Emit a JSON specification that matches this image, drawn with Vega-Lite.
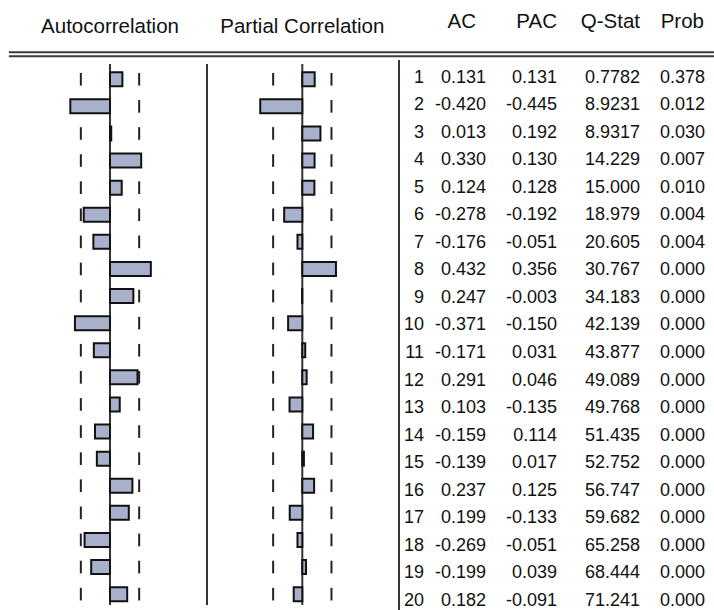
{
"$schema": "https://vega.github.io/schema/vega-lite/v6.json",
"background": "white",
"padding": 0,
"spacing": 0,
"bounds": "flush",
"config": {"view": {"stroke": null}, "locale": {"number": {"decimal": ".", "thousands": ",", "grouping": [3], "currency": ["$", ""], "minus": "-"}}},
"datasets": {"corr": [
{"lag": 1, "ac": 0.131, "pac": 0.131, "q": "0.7782", "prob": 0.378},
{"lag": 2, "ac": -0.420, "pac": -0.445, "q": "8.9231", "prob": 0.012},
{"lag": 3, "ac": 0.013, "pac": 0.192, "q": "8.9317", "prob": 0.030},
{"lag": 4, "ac": 0.330, "pac": 0.130, "q": "14.229", "prob": 0.007},
{"lag": 5, "ac": 0.124, "pac": 0.128, "q": "15.000", "prob": 0.010},
{"lag": 6, "ac": -0.278, "pac": -0.192, "q": "18.979", "prob": 0.004},
{"lag": 7, "ac": -0.176, "pac": -0.051, "q": "20.605", "prob": 0.004},
{"lag": 8, "ac": 0.432, "pac": 0.356, "q": "30.767", "prob": 0.000},
{"lag": 9, "ac": 0.247, "pac": -0.003, "q": "34.183", "prob": 0.000},
{"lag": 10, "ac": -0.371, "pac": -0.150, "q": "42.139", "prob": 0.000},
{"lag": 11, "ac": -0.171, "pac": 0.031, "q": "43.877", "prob": 0.000},
{"lag": 12, "ac": 0.291, "pac": 0.046, "q": "49.089", "prob": 0.000},
{"lag": 13, "ac": 0.103, "pac": -0.135, "q": "49.768", "prob": 0.000},
{"lag": 14, "ac": -0.159, "pac": 0.114, "q": "51.435", "prob": 0.000},
{"lag": 15, "ac": -0.139, "pac": 0.017, "q": "52.752", "prob": 0.000},
{"lag": 16, "ac": 0.237, "pac": 0.125, "q": "56.747", "prob": 0.000},
{"lag": 17, "ac": 0.199, "pac": -0.133, "q": "59.682", "prob": 0.000},
{"lag": 18, "ac": -0.269, "pac": -0.051, "q": "65.258", "prob": 0.000},
{"lag": 19, "ac": -0.199, "pac": 0.039, "q": "68.444", "prob": 0.000},
{"lag": 20, "ac": 0.182, "pac": -0.091, "q": "71.241", "prob": 0.000}
]},
"hconcat": [
{
"width": 207, "height": 610,
"data": {"name": "corr"},
"layer": [
{"data": {"values": [{}]}, "mark": {"type": "text", "text": "Autocorrelation", "font": "Liberation Sans", "fontSize": 20.5, "baseline": "alphabetic", "align": "center", "color": "#111"},
 "encoding": {"x": {"datum": 0, "type": "quantitative", "scale": {"domain": [-1.16402, 1.02646], "zero": false, "nice": false}, "axis": null},
  "y": {"datum": -0.7242, "type": "quantitative", "scale": {"domain": [-1.7405, 20.401], "reverse": true, "zero": false, "nice": false}, "axis": null}}},
{"data": {"values": [{}]}, "mark": {"type": "rule", "color": "#3a3a3a", "strokeWidth": 2},
 "encoding": {"x": {"datum": -1.07, "type": "quantitative"}, "x2": {"datum": 6.3915}, "y": {"datum": 0.0018, "type": "quantitative"}}},
{"data": {"values": [{}]}, "mark": {"type": "rule", "color": "#3a3a3a", "strokeWidth": 2},
 "encoding": {"x": {"datum": -1.07, "type": "quantitative"}, "x2": {"datum": 6.3915}, "y": {"datum": 0.147, "type": "quantitative"}}},
{"data": {"values": [{}]}, "mark": {"type": "rule", "color": "#333", "strokeWidth": 2},
 "encoding": {"x": {"datum": 0, "type": "quantitative"}, "y": {"datum": 0.4373, "type": "quantitative"}, "y2": {"datum": 20.401}}},
{"mark": {"type": "point", "shape": "M0,-1L0,1", "size": 160, "filled": false, "stroke": "#222", "strokeWidth": 2, "opacity": 1},
 "encoding": {"x": {"datum": -0.3086, "type": "quantitative"}, "y": {"field": "lag", "type": "quantitative"}}},
{"mark": {"type": "point", "shape": "M0,-1L0,1", "size": 160, "filled": false, "stroke": "#222", "strokeWidth": 2, "opacity": 1},
 "encoding": {"x": {"datum": 0.3086, "type": "quantitative"}, "y": {"field": "lag", "type": "quantitative"}}},
{"mark": {"type": "bar", "orient": "horizontal", "size": 14, "fill": "#a9b0cc", "stroke": "#111", "strokeWidth": 2},
 "encoding": {"x": {"field": "ac", "type": "quantitative"}, "x2": {"datum": 0}, "y": {"field": "lag", "type": "quantitative"}}}
]
},
{
"width": 192, "height": 610,
"data": {"name": "corr"},
"layer": [
{"data": {"values": [{}]}, "mark": {"type": "text", "text": "Partial Correlation", "font": "Liberation Sans", "fontSize": 20.5, "baseline": "alphabetic", "align": "center", "color": "#111"},
 "encoding": {"x": {"datum": 0, "type": "quantitative", "scale": {"domain": [-1.00847, 1.02328], "zero": false, "nice": false}, "axis": null},
  "y": {"datum": -0.7242, "type": "quantitative", "scale": {"domain": [-1.7405, 20.401], "reverse": true, "zero": false, "nice": false}, "axis": null}}},
{"data": {"values": [{}]}, "mark": {"type": "rule", "color": "#333", "strokeWidth": 2},
 "encoding": {"x": {"datum": -1.00847, "type": "quantitative"}, "y": {"datum": 0.4373, "type": "quantitative"}, "y2": {"datum": 20.401}}},
{"data": {"values": [{}]}, "mark": {"type": "rule", "color": "#333", "strokeWidth": 2},
 "encoding": {"x": {"datum": 0, "type": "quantitative"}, "y": {"datum": 0.4373, "type": "quantitative"}, "y2": {"datum": 20.401}}},
{"mark": {"type": "point", "shape": "M0,-1L0,1", "size": 160, "filled": false, "stroke": "#222", "strokeWidth": 2, "opacity": 1},
 "encoding": {"x": {"datum": -0.3086, "type": "quantitative"}, "y": {"field": "lag", "type": "quantitative"}}},
{"mark": {"type": "point", "shape": "M0,-1L0,1", "size": 160, "filled": false, "stroke": "#222", "strokeWidth": 2, "opacity": 1},
 "encoding": {"x": {"datum": 0.3086, "type": "quantitative"}, "y": {"field": "lag", "type": "quantitative"}}},
{"mark": {"type": "bar", "orient": "horizontal", "size": 14, "fill": "#a9b0cc", "stroke": "#111", "strokeWidth": 2},
 "encoding": {"x": {"field": "pac", "type": "quantitative"}, "x2": {"datum": 0}, "y": {"field": "lag", "type": "quantitative"}}}
]
},
{
"width": 25, "height": 610,
"data": {"name": "corr"},
"layer": [
{"data": {"values": [{}]}, "mark": {"type": "rule", "color": "#333", "strokeWidth": 2},
 "encoding": {"x": {"datum": 0, "type": "quantitative", "scale": {"domain": [0, 1], "zero": false, "nice": false}, "axis": null}, "y": {"datum": 0.4373, "type": "quantitative", "scale": {"domain": [-1.7405, 20.401], "reverse": true, "zero": false, "nice": false}, "axis": null}, "y2": {"datum": 20.401}}},
{"mark": {"type": "text", "font": "Liberation Sans", "fontSize": 18, "baseline": "alphabetic", "align": "right", "dy": 7, "color": "#111"},
 "encoding": {"x": {"datum": 1, "type": "quantitative"}, "y": {"field": "lag", "type": "quantitative"}, "text": {"field": "lag", "type": "quantitative", "format": "d"}}}
]
},
{
"width": 62, "height": 610,
"data": {"name": "corr"},
"layer": [
{"data": {"values": [{}]}, "mark": {"type": "text", "text": "AC", "font": "Liberation Sans", "fontSize": 20.5, "baseline": "alphabetic", "align": "right", "dx": -10, "color": "#111"},
 "encoding": {"x": {"datum": 1, "type": "quantitative", "scale": {"domain": [0, 1], "zero": false, "nice": false}, "axis": null},
  "y": {"datum": -0.7242, "type": "quantitative", "scale": {"domain": [-1.7405, 20.401], "reverse": true, "zero": false, "nice": false}, "axis": null}}},
{"mark": {"type": "text", "font": "Liberation Sans", "fontSize": 18, "baseline": "alphabetic", "align": "right", "dy": 7, "color": "#111"},
 "encoding": {"x": {"datum": 1, "type": "quantitative"}, "y": {"field": "lag", "type": "quantitative"}, "text": {"field": "ac", "type": "quantitative", "format": ".3f"}}}
]
},
{
"width": 71, "height": 610,
"data": {"name": "corr"},
"layer": [
{"data": {"values": [{}]}, "mark": {"type": "text", "text": "PAC", "font": "Liberation Sans", "fontSize": 20.5, "baseline": "alphabetic", "align": "right", "dx": 0, "color": "#111"},
 "encoding": {"x": {"datum": 1, "type": "quantitative", "scale": {"domain": [0, 1], "zero": false, "nice": false}, "axis": null},
  "y": {"datum": -0.7242, "type": "quantitative", "scale": {"domain": [-1.7405, 20.401], "reverse": true, "zero": false, "nice": false}, "axis": null}}},
{"mark": {"type": "text", "font": "Liberation Sans", "fontSize": 18, "baseline": "alphabetic", "align": "right", "dy": 7, "color": "#111"},
 "encoding": {"x": {"datum": 1, "type": "quantitative"}, "y": {"field": "lag", "type": "quantitative"}, "text": {"field": "pac", "type": "quantitative", "format": ".3f"}}}
]
},
{
"width": 83, "height": 610,
"data": {"name": "corr"},
"layer": [
{"data": {"values": [{}]}, "mark": {"type": "text", "text": "Q-Stat", "font": "Liberation Sans", "fontSize": 20.5, "baseline": "alphabetic", "align": "right", "dx": 0, "color": "#111"},
 "encoding": {"x": {"datum": 1, "type": "quantitative", "scale": {"domain": [0, 1], "zero": false, "nice": false}, "axis": null},
  "y": {"datum": -0.7242, "type": "quantitative", "scale": {"domain": [-1.7405, 20.401], "reverse": true, "zero": false, "nice": false}, "axis": null}}},
{"mark": {"type": "text", "font": "Liberation Sans", "fontSize": 18, "baseline": "alphabetic", "align": "right", "dy": 7, "color": "#111"},
 "encoding": {"x": {"datum": 1, "type": "quantitative"}, "y": {"field": "lag", "type": "quantitative"}, "text": {"field": "q", "type": "nominal"}}}
]
},
{
"width": 74, "height": 610,
"data": {"name": "corr"},
"layer": [
{"data": {"values": [{}]}, "mark": {"type": "text", "text": "Prob", "font": "Liberation Sans", "fontSize": 20.5, "baseline": "alphabetic", "align": "right", "dx": -10, "color": "#111"},
 "encoding": {"x": {"datum": 1, "type": "quantitative", "scale": {"domain": [0, 1], "zero": false, "nice": false}, "axis": null},
  "y": {"datum": -0.7242, "type": "quantitative", "scale": {"domain": [-1.7405, 20.401], "reverse": true, "zero": false, "nice": false}, "axis": null}}},
{"mark": {"type": "text", "font": "Liberation Sans", "fontSize": 18, "baseline": "alphabetic", "align": "right", "dx": -9, "dy": 7, "color": "#111"},
 "encoding": {"x": {"datum": 1, "type": "quantitative"}, "y": {"field": "lag", "type": "quantitative"}, "text": {"field": "prob", "type": "quantitative", "format": ".3f"}}}
]
}
]
}
